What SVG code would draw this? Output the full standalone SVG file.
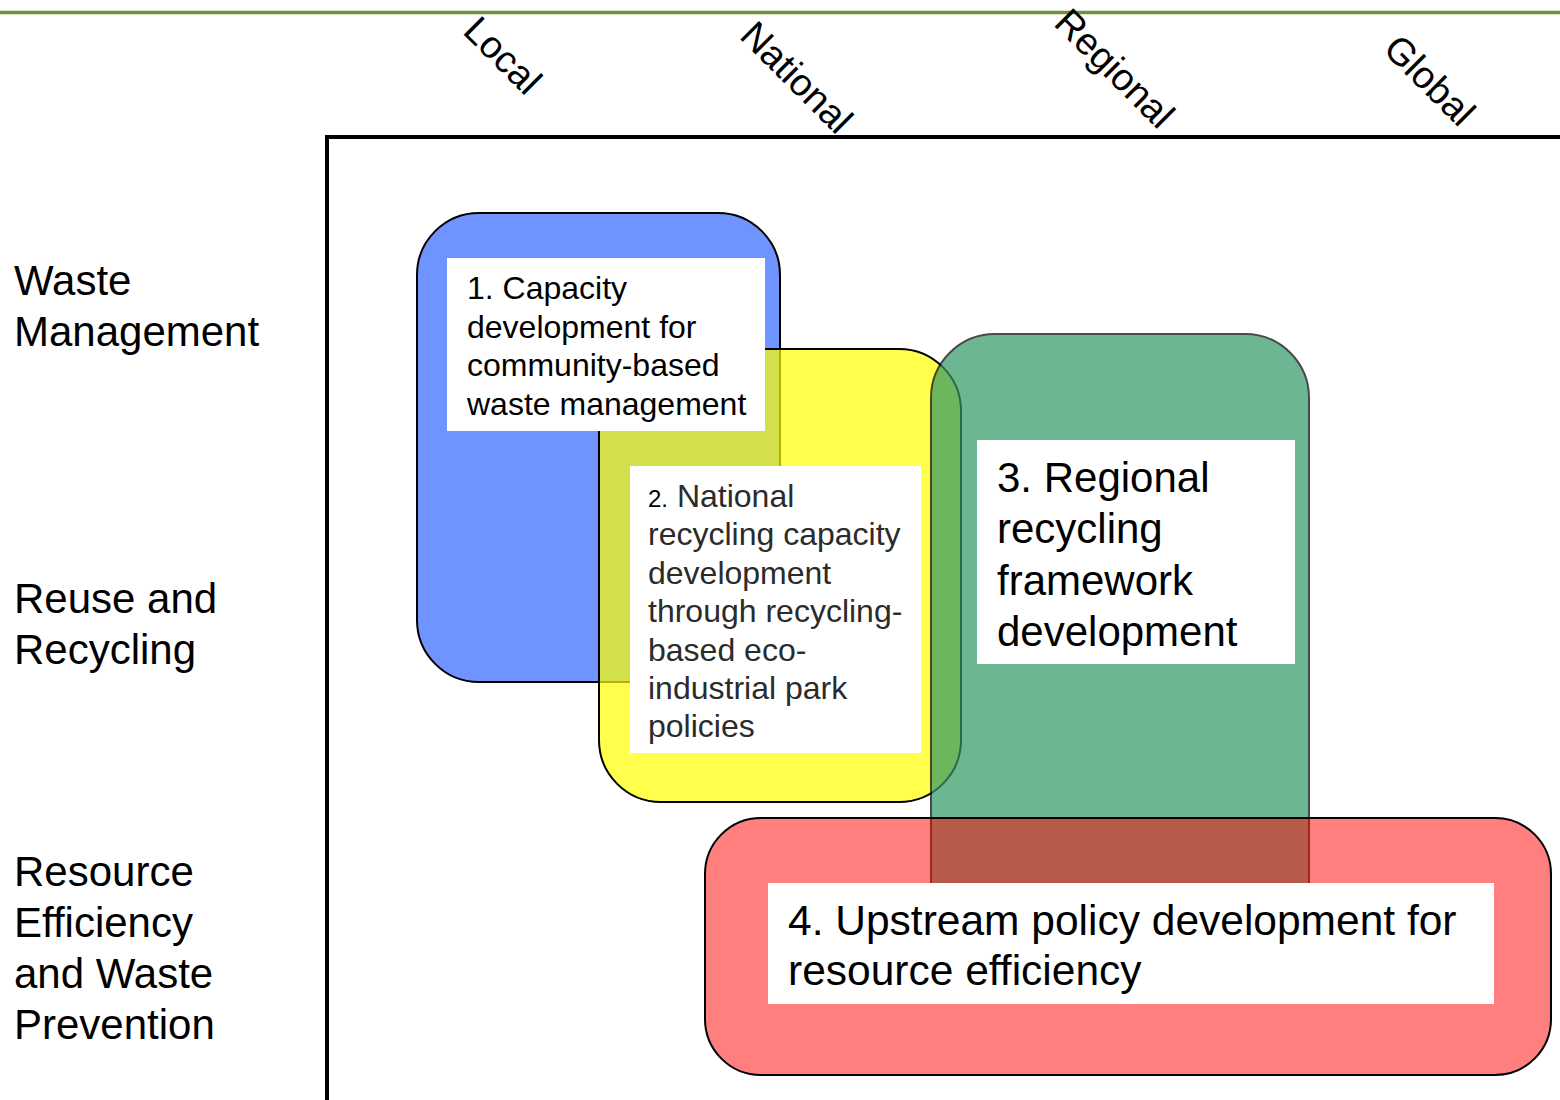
<svg xmlns="http://www.w3.org/2000/svg" width="1560" height="1100" viewBox="0 0 1560 1100">
<style>
text{font-family:"Liberation Sans",Arial,sans-serif;fill:#000}
.axis{font-size:38px}
.row{font-size:42px}
.lbl{fill:#fff}
.t1{font-size:32px}
.t2{font-size:32px;fill:#2b2b2b}
.t3{font-size:42px}
.t4{font-size:42.5px}
.reg{stroke:#000;stroke-width:2}
</style>
<rect x="0" y="0" width="1560" height="1100" fill="#fff"/>
<g id="axes">
<line x1="0" y1="12.5" x2="1560" y2="12.5" stroke="#70913a" stroke-width="3.5"/>
<line x1="325" y1="137" x2="1560" y2="137" stroke="#000" stroke-width="4"/>
<line x1="327" y1="135" x2="327" y2="1100" stroke="#000" stroke-width="4"/>
</g>
<g id="col-labels" class="axis">
<text transform="translate(493.5,64.5) rotate(45)" text-anchor="middle">Local</text>
<text transform="translate(787.5,86.5) rotate(45)" text-anchor="middle">National</text>
<text transform="translate(1105.5,77.5) rotate(45)" text-anchor="middle">Regional</text>
<text transform="translate(1420.5,89.5) rotate(45)" text-anchor="middle">Global</text>
</g>
<g id="row-labels" class="row">
<text x="14" y="295">Waste</text>
<text x="14" y="346">Management</text>
<text x="14" y="613">Reuse and</text>
<text x="14" y="664">Recycling</text>
<text x="14" y="886">Resource</text>
<text x="14" y="937">Efficiency</text>
<text x="14" y="988">and Waste</text>
<text x="14" y="1039">Prevention</text>
</g>
<g id="region1"><rect class="reg" x="417" y="213" width="363" height="469" rx="62" fill="#7094ff"/></g>
<g id="region2"><rect class="reg" x="599" y="349" width="362" height="453" rx="62" fill="#ffff00" fill-opacity="0.7"/></g>
<g id="region3"><rect x="931" y="334" width="378" height="640" rx="64" fill="#339966" stroke="#000" stroke-width="2" opacity="0.71"/></g>
<g id="region4"><rect class="reg" x="705" y="818" width="846" height="257" rx="56" fill="#ff0000" fill-opacity="0.5"/></g>
<g id="node1">
<rect class="lbl" x="447" y="258" width="318" height="173"/>
<text class="t1"><tspan x="467" y="299">1. Capacity</tspan><tspan x="467" y="338">development for</tspan><tspan x="467" y="376">community-based</tspan><tspan x="467" y="415">waste management</tspan></text>
</g>
<g id="node2">
<rect class="lbl" x="630" y="466" width="291" height="287"/>
<text class="t2"><tspan x="648" y="507" font-size="24" fill="#000">2.</tspan><tspan> National</tspan><tspan x="648" y="545">recycling capacity</tspan><tspan x="648" y="584">development</tspan><tspan x="648" y="622">through recycling-</tspan><tspan x="648" y="661">based eco-</tspan><tspan x="648" y="699">industrial park</tspan><tspan x="648" y="737">policies</tspan></text>
</g>
<g id="node3">
<rect class="lbl" x="977" y="440" width="318" height="224"/>
<text class="t3"><tspan x="997" y="492">3. Regional</tspan><tspan x="997" y="543">recycling</tspan><tspan x="997" y="595">framework</tspan><tspan x="997" y="646">development</tspan></text>
</g>
<g id="node4">
<rect class="lbl" x="768" y="883" width="726" height="121"/>
<text class="t4"><tspan x="788" y="935">4. Upstream policy development for</tspan><tspan x="788" y="985">resource efficiency</tspan></text>
</g>
</svg>
